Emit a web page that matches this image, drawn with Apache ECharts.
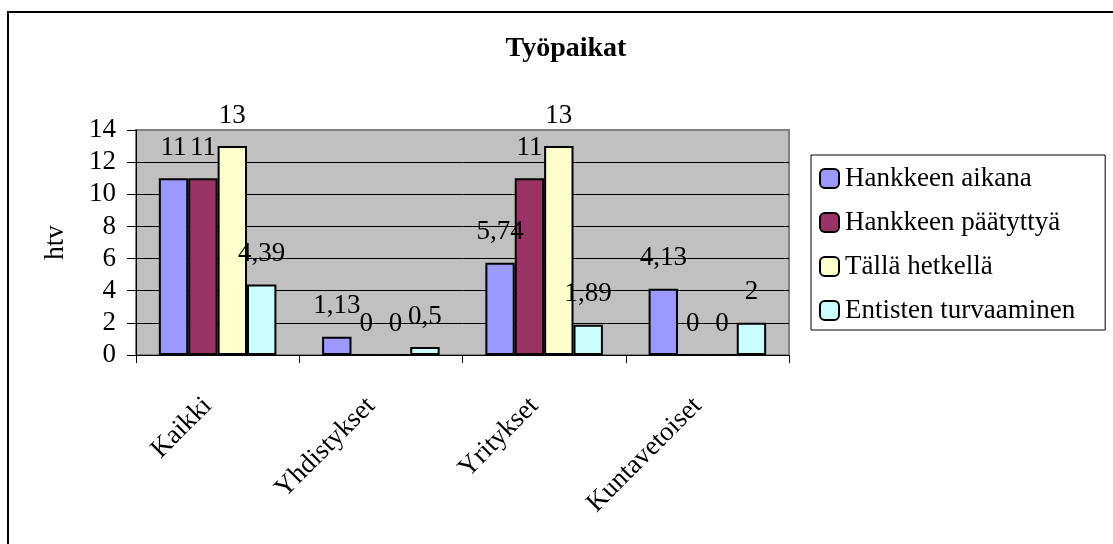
<!DOCTYPE html>
<html>
<head>
<meta charset="utf-8">
<script src="https://cdn.jsdelivr.net/npm/echarts@6/dist/echarts.min.js"></script>
<style>
  html, body { margin: 0; padding: 0; background: #fff; }
  #chart { width: 1113px; height: 544px; }
</style>
</head>
<body>
<div id="chart"></div>
<script>
// データ
const categories = ["Kaikki", "Yhdistykset", "Yritykset", "Kuntavetoiset"];
const seriesNames = ["Hankkeen aikana", "Hankkeen päätyttyä", "Tällä hetkellä", "Entisten turvaaminen"];
const hankkeenAikana = [11, 1.13, 5.74, 4.13];
const hankkeenPaatyttya = [11, 0, 11, 0];
const tallaHetkella = [13, 0, 13, 0];
const entistenTurvaaminen = [4.39, 0.5, 1.89, 2];
const yTicks = [0, 2, 4, 6, 8, 10, 12, 14];

const colors = ["#9999FF", "#993366", "#FFFFCC", "#CCFFFF"];
const serif = "'Liberation Serif', 'Times New Roman', serif";
const seriesValues = [hankkeenAikana, hankkeenPaatyttya, tallaHetkella, entistenTurvaaminen];

const chart = echarts.init(document.getElementById("chart"));

const option = {
  backgroundColor: "#ffffff",
  animation: false,
  textStyle: { fontFamily: serif, color: "#000" },
  title: {
    text: "Työpaikat",
    left: 561,
    top: 30,
    textAlign: "center",
    textStyle: { fontFamily: serif, fontSize: 28, fontWeight: "bold", color: "#000" },
  },
  legend: {
    orient: "vertical",
    left: 811,
    top: 155,
    padding: [10, 30, 6, 8],
    itemWidth: 19,
    itemHeight: 19,
    itemGap: 17,
    borderColor: "#000",
    borderWidth: 1,
    backgroundColor: "#fff",
    data: seriesNames,
    itemStyle: { borderColor: "#000", borderWidth: 2 },
    textStyle: { fontFamily: serif, fontSize: 27, color: "#000", padding: [0, 0, 0, 1] },
  },
  grid: {
    left: 136,
    right: 324,
    top: 130,
    bottom: 189,
    show: true,
    backgroundColor: "#C0C0C0",
    borderColor: "#808080",
    borderWidth: 2,
  },
  xAxis: {
    type: "category",
    data: categories,
    axisLine: { lineStyle: { color: "#000", width: 1 } },
    axisTick: { show: true, length: 8, lineStyle: { color: "#000" } },
    axisLabel: {
      rotate: 45,
      margin: 37,
      padding: [0, 14, 0, 0],
      fontFamily: serif,
      fontSize: 27,
      color: "#000",
    },
  },
  yAxis: {
    type: "value",
    min: yTicks[0],
    max: yTicks[yTicks.length - 1],
    interval: 2,
    name: "htv",
    nameLocation: "middle",
    nameGap: 67,
    nameRotate: 90,
    nameTextStyle: { fontFamily: serif, fontSize: 27, color: "#000" },
    axisLine: { show: true, lineStyle: { color: "#000", width: 1 } },
    axisTick: { show: true, length: 9, lineStyle: { color: "#000" } },
    axisLabel: { margin: 20, fontFamily: serif, fontSize: 27, color: "#000" },
    splitLine: { show: true, showMaxLine: false, lineStyle: { color: "#000", width: 1 } },
  },
  series: seriesNames.map((name, i) => ({
    name: name,
    type: "bar",
    data: seriesValues[i],
    barGap: "0%",
    barCategoryGap: "28%",
    itemStyle: { color: colors[i], borderColor: "#000", borderWidth: 2 },
    label: {
      show: true,
      position: "top",
      distance: 17,
      fontFamily: serif,
      fontSize: 27,
      color: "#000",
      formatter: (p) => String(p.value).replace(".", ","),
    },
  })),
  graphic: [
    {
      type: "rect",
      silent: true,
      z: 100,
      shape: { x: 8, y: 12, width: 1300, height: 700 },
      style: { fill: null, stroke: "#000", lineWidth: 2 },
    },
  ],
};

chart.setOption(option);
</script>
</body>
</html>
